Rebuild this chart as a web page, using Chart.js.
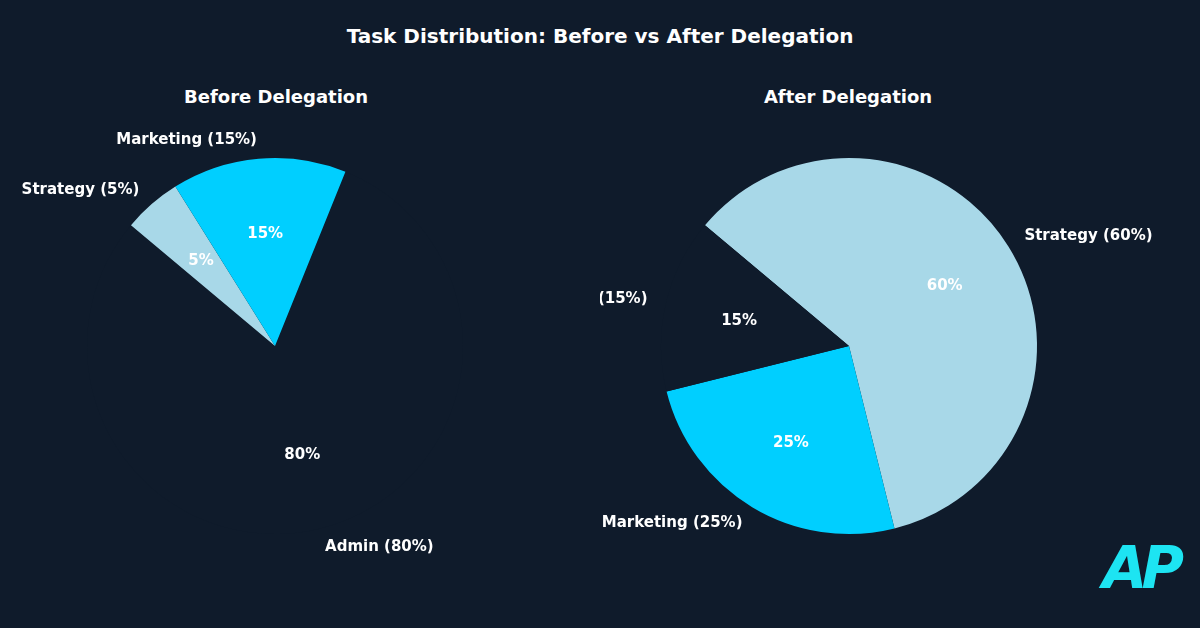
<!DOCTYPE html>
<html>
<head>
<meta charset="utf-8">
<script src="https://cdn.jsdelivr.net/npm/chart.js@4"></script>
<style>
    body { margin: 0; width: 1200px; height: 628px; background: #0f1b2b; overflow: hidden; position: relative; font-family: "DejaVu Sans", sans-serif; color: #fff; }
    .title { position: absolute; top: 24px; width: 1200px; text-align: center; font-size: 20px; font-weight: bold; }
    .sub { position: absolute; top: 86px; width: 300px; text-align: center; font-size: 18px; font-weight: bold; }
    .box { position: absolute; top: 0; width: 600px; height: 628px; }
    .logo { position: absolute; right: 22px; bottom: 26px; font-size: 58px; font-weight: bold; font-style: italic; color: #1de4f2; letter-spacing: -6px; }
</style>
</head>
<body>
<div class="title">Task Distribution: Before vs After Delegation</div>
<div class="sub" style="left:126px">Before Delegation</div>
<div class="sub" style="left:698px">After Delegation</div>
<div class="box" style="left:0"><canvas id="before"></canvas></div>
<div class="box" style="left:600px"><canvas id="after"></canvas></div>
<div class="logo">AP</div>
<script>
// Data
const beforeLabels = ['Admin', 'Strategy', 'Marketing'];
const beforeValues = [80, 5, 15];
const afterLabels = ['Strategy', 'Marketing', 'Admin'];
const afterValues = [60, 25, 15];

const sliceColors = {
    'Admin': '#0f1b2b',
    'Strategy': '#a8d8e8',
    'Marketing': '#00cfff'
};

// Draw outside name labels and inside percentage labels from arc geometry
const pieLabels = {
    id: 'pieLabels',
    afterDatasetsDraw(chart) {
        const ctx = chart.ctx;
        const meta = chart.getDatasetMeta(0);
        const values = chart.data.datasets[0].data;
        ctx.save();
        ctx.fillStyle = '#ffffff';
        ctx.font = 'bold 15px "DejaVu Sans"';
        ctx.textBaseline = 'middle';
        meta.data.forEach((arc, i) => {
            const mid = (arc.startAngle + arc.endAngle) / 2;
            const r = arc.outerRadius;
            const cos = Math.cos(mid), sin = Math.sin(mid);
            ctx.textAlign = 'center';
            ctx.fillText(values[i] + '%', arc.x + cos * r * 0.6, arc.y + sin * r * 0.6);
            ctx.textAlign = cos < 0 ? 'right' : 'left';
            ctx.fillText(chart.data.labels[i] + ' (' + values[i] + '%)', arc.x + cos * r * 1.1, arc.y + sin * r * 1.1);
        });
        ctx.restore();
    }
};

function createPie(id, labels, values, rotation, padding) {
    new Chart(document.getElementById(id), {
        type: 'pie',
        data: {
            labels: labels,
            datasets: [{
                data: values,
                backgroundColor: labels.map(l => sliceColors[l]),
                borderWidth: 0
            }]
        },
        options: {
            responsive: true,
            maintainAspectRatio: false,
            animation: false,
            rotation: rotation,
            layout: { padding: padding },
            plugins: {
                legend: { display: false },
                tooltip: { enabled: false }
            }
        },
        plugins: [pieLabels]
    });
}

createPie('before', beforeLabels, beforeValues, 22, { left: 87, right: 137, top: 158, bottom: 94 });
createPie('after', afterLabels, afterValues, -50, { left: 61, right: 163, top: 158, bottom: 94 });
</script>
</body>
</html>
